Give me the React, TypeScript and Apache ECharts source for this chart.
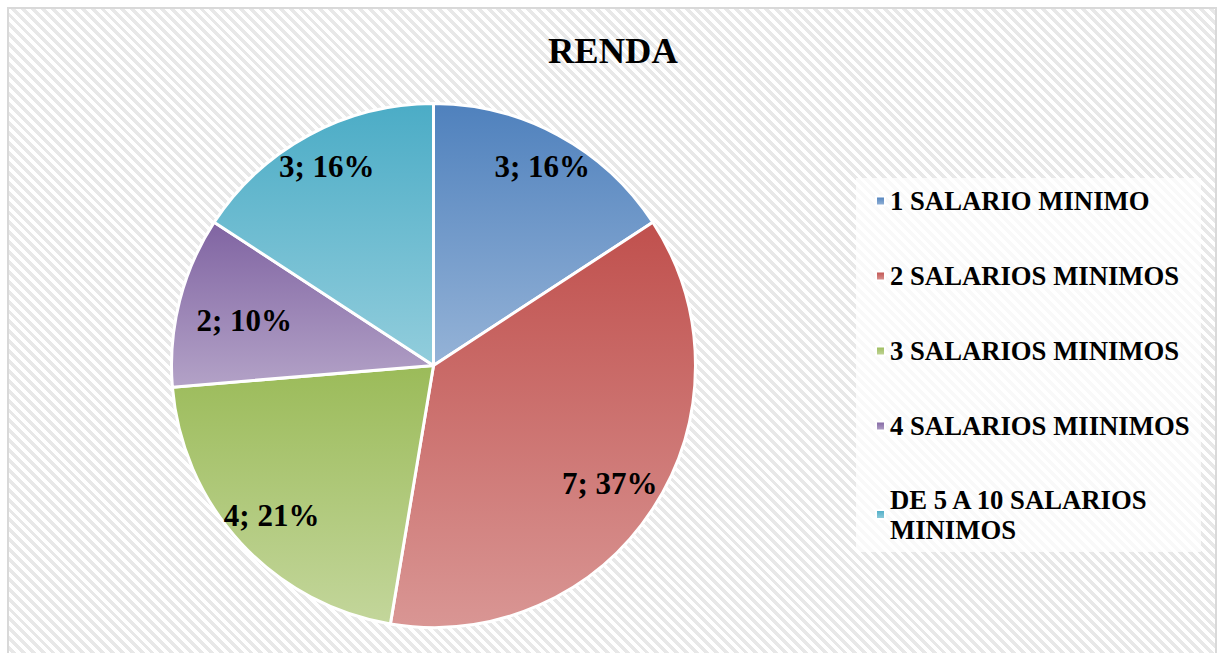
import React, { useEffect, useRef } from "react";
import * as echarts from "echarts";

const titleText = "RENDA";
const categories = [
  "1 SALARIO MINIMO",
  "2 SALARIOS MINIMOS",
  "3 SALARIOS MINIMOS",
  "4 SALARIOS MIINIMOS",
  "DE 5 A 10 SALARIOS MINIMOS",
];
const values = [3, 7, 4, 2, 3];
const topColors = ["#4f81bd", "#c0504d", "#9bbb59", "#8064a2", "#4bacc6"];
const bottomColors = ["#95b3d7", "#d99694", "#c3d69b", "#b3a2c7", "#92cddc"];
// small nudges of the data labels (Excel "best fit" placement)
const labelNudges = [
  [4, -6],
  [-8, -2],
  [0, 1],
  [24, 9],
  [-2, -6],
];

const serif = "Liberation Serif";

export default function App() {
  const ref = useRef<HTMLDivElement>(null);

  useEffect(() => {
    if (!ref.current) return;
    const chart = echarts.init(ref.current, null, { renderer: "svg" });

    const grad = (i: number) =>
      new echarts.graphic.LinearGradient(0, 0, 0, 1, [
        { offset: 0, color: topColors[i] },
        { offset: 1, color: bottomColors[i] },
      ]);

    const mainData = categories.map((name, i) => ({
      name,
      value: values[i],
      itemStyle: { color: grad(i) },
    }));
    const labelData = categories.map((name, i) => ({ name, value: values[i] }));

    const R = 262;
    const center = [433.5, 365.5];

    const legendText = {
      fontFamily: serif,
      fontWeight: "bold",
      fontSize: 26.7,
      lineHeight: 30,
      color: "#000",
    };

    chart.setOption({
      animation: false,
      backgroundColor: "transparent",
      textStyle: { fontFamily: serif },
      title: {
        text: titleText,
        left: 548,
        top: 32,
        padding: 0,
        textStyle: {
          fontFamily: serif,
          fontWeight: "bold",
          fontSize: 36.5,
          color: "#000",
        },
      },
      graphic: {
        elements: [
          {
            type: "rect",
            z: -10,
            shape: { x: 856, y: 178, width: 345, height: 374 },
            style: { fill: "rgba(255,255,255,0.75)" },
            silent: true,
          },
        ],
      },
      legend: {
        orient: "vertical",
        left: 875,
        top: 186,
        padding: 0,
        itemWidth: 9,
        itemHeight: 9,
        itemGap: 45,
        icon: "rect",
        textStyle: legendText,
        data: categories.map((name, i) =>
          i === categories.length - 1
            ? {
                name,
                textStyle: {
                  ...legendText,
                  width: 300,
                  overflow: "break",
                  height: 30,
                },
              }
            : { name, textStyle: { ...legendText } }
        ),
      },
      series: [
        {
          type: "pie",
          name: "main",
          center,
          radius: R,
          startAngle: 90,
          clockwise: true,
          percentPrecision: 0,
          label: { show: false },
          labelLine: { show: false },
          itemStyle: { borderColor: "#ffffff", borderWidth: 3 },
          emphasis: { scale: false },
          data: mainData,
        },
        {
          type: "pie",
          name: "labels",
          center,
          radius: [172, R],
          startAngle: 90,
          clockwise: true,
          percentPrecision: 0,
          silent: true,
          itemStyle: { color: "rgba(0,0,0,0)", borderWidth: 0 },
          labelLine: { show: false },
          emphasis: { disabled: true },
          label: {
            show: true,
            position: "inside",
            formatter: "{c}; {d}%",
            fontFamily: serif,
            fontWeight: "bold",
            fontSize: 31,
            color: "#000",
          },
          labelLayout: (params: any) => ({
            dx: labelNudges[params.dataIndex][0],
            dy: labelNudges[params.dataIndex][1],
          }),
          data: labelData,
        },
      ],
    });

    return () => chart.dispose();
  }, []);

  return (
    <div
      style={{
        position: "absolute",
        left: 0,
        top: 0,
        width: 1218,
        height: 653,
        background: "#ffffff",
        overflow: "hidden",
      }}
    >
      <div
        style={{
          position: "absolute",
          left: 7,
          top: 7,
          width: 1210,
          height: 700,
          boxSizing: "border-box",
          border: "2px solid #d9d9d9",
          background:
            "repeating-linear-gradient(45deg, #ffffff 0px, #ffffff 3.5px, #e8e8e8 3.5px, #e8e8e8 7px)",
        }}
      />
      <div
        ref={ref}
        style={{ position: "absolute", left: 0, top: 0, width: 1218, height: 653 }}
      />
    </div>
  );
}
